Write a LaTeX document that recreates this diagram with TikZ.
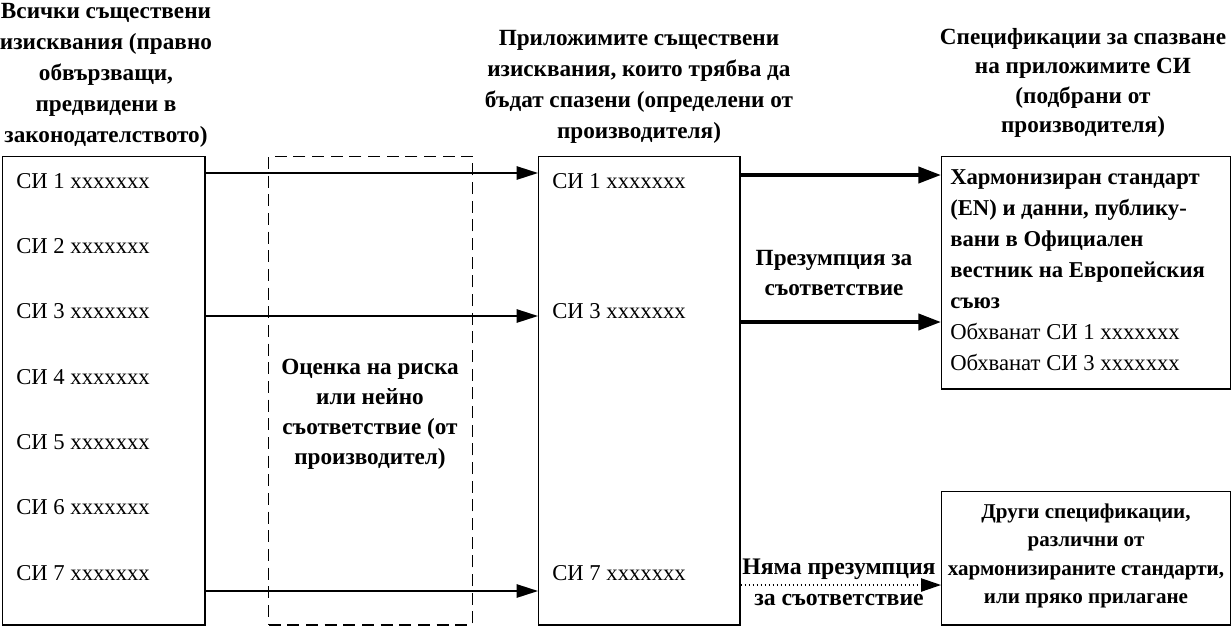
\documentclass[tikz,border=0pt]{standalone}
\usepackage{fontspec}
\setmainfont{Liberation Serif}
\usetikzlibrary{arrows.meta}
\begin{document}
\begin{tikzpicture}[x=0.75pt,y=-0.75pt,
  box/.style={draw, line width=1.1pt, inner sep=0pt, anchor=north west},
  dbox/.style={draw, line width=1.1pt, dash pattern=on 9pt off 5pt, inner sep=0pt, anchor=north west},
  hdr/.style={font=\fontsize{17.4}{23.25}\selectfont\bfseries, align=center, inner sep=0pt},
  item/.style={font=\fontsize{17}{20}\selectfont, anchor=west, inner sep=0pt},
  lbl/.style={font=\fontsize{17.4}{22.5}\selectfont\bfseries, align=center, inner sep=0pt},
  thin/.style={line width=1.2pt, -{Triangle[length=16pt,width=10pt]}},
  thick/.style={line width=3pt, -{Triangle[length=17pt,width=12pt]}},
  dot/.style={line width=1pt, dotted, -{Triangle[length=15pt,width=10pt]}}
]
\useasboundingbox (0,0) rectangle (1231,626);

% boxes
\node[box, minimum width=151.9pt, minimum height=351.4pt] (L) at (1.5,155.5) {};
\node[dbox, minimum width=153pt, minimum height=351.4pt] (D) at (268,155.5) {};
\node[box, minimum width=150.8pt, minimum height=351.4pt] (M) at (538,155.5) {};
\node[box, minimum width=216.4pt, minimum height=174.4pt] (R1) at (941,155.5) {};
\node[box, minimum width=216.4pt, minimum height=100.1pt] (R2) at (941,491) {};

% headers
\node[hdr] (hL) at (106,75) {Всички съществени\\изисквания (правно\\обвързващи,\\предвидени в\\законодателството)};
\node[hdr] (hM) at (639,87) {Приложимите съществени\\изисквания, които трябва да\\бъдат спазени (определени от\\производителя)};
\node[hdr, font=\fontsize{17.4}{22}\selectfont\bfseries] (hR) at (1083,83) {Спецификации за спазване\\на приложимите СИ\\(подбрани от\\производителя)};

% left items
\node[item] (l1) at (16,181) {СИ 1 xxxxxxx};
\node[item] (l2) at (16,246) {СИ 2 xxxxxxx};
\node[item] (l3) at (16,311) {СИ 3 xxxxxxx};
\node[item] (l4) at (16,377) {СИ 4 xxxxxxx};
\node[item] (l5) at (16,442) {СИ 5 xxxxxxx};
\node[item] (l6) at (16,507) {СИ 6 xxxxxxx};
\node[item] (l7) at (16,573) {СИ 7 xxxxxxx};

% middle items
\node[item] (m1) at (552,181) {СИ 1 xxxxxxx};
\node[item] (m3) at (552,311) {СИ 3 xxxxxxx};
\node[item] (m7) at (552,573) {СИ 7 xxxxxxx};

% dashed box text
\node[lbl] (risk) at (370,414) {Оценка на риска\\или нейно\\съответствие (от\\производител)};

% right top box text
\node[font=\fontsize{17}{23.25}\selectfont, align=left, inner sep=0pt, anchor=west] (hs) at (950,270)
 {\textbf{Хармонизиран стандарт}\\\textbf{(EN) и данни, публику-}\\\textbf{вани в Официален}\\\textbf{вестник на Европейския}\\\textbf{съюз}\\Обхванат СИ 1 xxxxxxx\\Обхванат СИ 3 xxxxxxx};

% right bottom box text
\node[font=\fontsize{15.8}{21.4}\selectfont\bfseries, align=center, inner sep=0pt] (oth) at (1086,556)
 {Други спецификации,\\различни от\\хармонизираните стандарти,\\или пряко прилагане};

% labels
\node[lbl] (pres) at (834,273) {Презумпция за\\съответствие};
\node[lbl, font=\fontsize{17.8}{23.5}\selectfont\bfseries] (nopres) at (839,582) {Няма презумпция\\за съответствие};

% arrows
\draw[thin] (L.east |- 0,173) -- (M.west |- 0,173);
\draw[thin] (L.east |- 0,316) -- (M.west |- 0,316);
\draw[thin] (L.east |- 0,591) -- (M.west |- 0,591);
\draw[thick] (M.east |- 0,175) -- (R1.west |- 0,175);
\draw[thick] (M.east |- 0,322) -- (R1.west |- 0,322);
\draw[dot] (M.east |- 0,585) -- (R2.west |- 0,585);
\end{tikzpicture}
\end{document}
